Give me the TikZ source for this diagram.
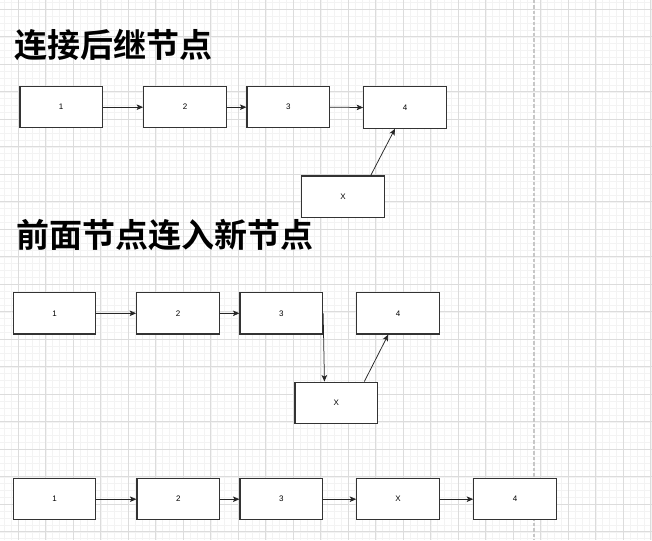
\documentclass[tikz,border=0pt]{standalone}
\usepackage{fontspec}
\setmainfont{Liberation Sans}
\newfontfamily\cjk{Noto Sans CJK SC}[BoldFont={Noto Sans CJK SC Bold}]
\usetikzlibrary{arrows.meta,calc}
\definecolor{gridminor}{HTML}{F3F3F3}
\definecolor{gridmajor}{HTML}{DCDCDC}
\definecolor{boxline}{HTML}{333333}
\tikzset{
  nodebox/.style={draw=boxline, line width=1.2pt, fill=white, minimum width=82.5pt, minimum height=41.25pt, inner sep=0pt, font=\fontsize{8}{9}\selectfont},
  link/.style={draw=black!85, line width=0.75pt, -{Stealth[length=6.5pt,width=5.5pt,inset=1.5pt]}},
  title/.style={font=\cjk\bfseries\fontsize{33}{36}\selectfont, inner sep=0pt, anchor=west}
}
\begin{document}
\begin{tikzpicture}[x=1pt,y=-1pt]
\useasboundingbox (0,0) rectangle (652,540);
\fill[white] (0,0) rectangle (652,540);
% grid
\foreach \i in {0,...,95} {
  \draw[gridminor, line width=0.6pt] ({4.55+6.875*\i},0) -- ({4.55+6.875*\i},540);
}
\foreach \i in {0,...,79} {
  \draw[gridminor, line width=0.6pt] (0,{2.43+6.875*\i}) -- (652,{2.43+6.875*\i});
}
\foreach \i in {0,...,23} {
  \draw[gridmajor, line width=0.7pt] ({18.3+27.5*\i},0) -- ({18.3+27.5*\i},540);
}
\foreach \i in {0,...,19} {
  \draw[gridmajor, line width=0.7pt] (0,{9.3+27.5*\i}) -- (652,{9.3+27.5*\i});
}
% page break line
\coordinate (pbtop) at (534,0);
\coordinate (pbbot) at (534,540);
\draw[black!22, line width=1.3pt, dash pattern=on 3.5pt off 2pt] (pbtop) -- (pbbot);

% titles
\node[title] (t1) at (14,45) {连接后继节点};
\node[title] (t2) at (16,235) {前面节点连入新节点};

% row 1
\node[nodebox] (a1) at (61.2,107.2) {1};
\node[nodebox] (a2) at (185,107.2) {2};
\node[nodebox] (a3) at (288.3,107.2) {3};
\node[nodebox] (a4) at (405,107.5) {4};
\node[nodebox] (ax) at (343,196.7) {X};
\draw[link] (a1.east) -- (a2.west);
\draw[link] (a2.east) -- (a3.west);
\draw[link] (a3.east) -- (a4.west);
\draw[link] ($(ax.north)+(27.7,0)$) -- ($(a4.south)+(-10,0)$);

% row 2
\node[nodebox] (b1) at (54.5,313.3) {1};
\node[nodebox] (b2) at (178,313.3) {2};
\node[nodebox] (b3) at (281.3,313.3) {3};
\node[nodebox] (b4) at (398,313.3) {4};
\node[nodebox] (bx) at (336.3,402.8) {X};
\draw[link] (b1.east) -- (b2.west);
\draw[link] (b2.east) -- (b3.west);
\draw[link] (b3.east) -- ($(bx.north west)+(30,0)$);
\draw[link] ($(bx.north)+(28,0)$) -- ($(b4.south)+(-9.7,0)$);

% row 3
\node[nodebox] (c1) at (54.5,499.2) {1};
\node[nodebox] (c2) at (178.3,499.2) {2};
\node[nodebox] (c3) at (281.3,499.2) {3};
\node[nodebox] (cx) at (398.1,499.2) {X};
\node[nodebox] (c4) at (515.1,499.2) {4};
\draw[link] (c1.east) -- (c2.west);
\draw[link] (c2.east) -- (c3.west);
\draw[link] (c3.east) -- (cx.west);
\draw[link] (cx.east) -- (c4.west);
\end{tikzpicture}
\end{document}
